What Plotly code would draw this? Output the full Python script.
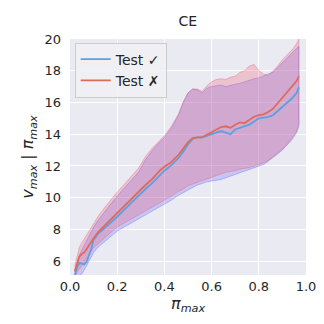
import plotly.graph_objects as go

# x positions (pi_max) shared by all series
pi_max = [0.02, 0.03, 0.04, 0.05, 0.06, 0.07, 0.08, 0.09, 0.10, 0.12, 0.14, 0.16, 0.18, 0.20,
          0.23, 0.26, 0.29, 0.32, 0.35, 0.38, 0.40, 0.43, 0.46, 0.48, 0.50, 0.52, 0.54, 0.56,
          0.58, 0.60, 0.62, 0.64, 0.66, 0.68, 0.70, 0.72, 0.74, 0.76, 0.78, 0.80, 0.82, 0.84,
          0.86, 0.88, 0.90, 0.92, 0.94, 0.96, 0.97]

# Test ✓ (blue)
ok_mean = [5.1, 5.6, 5.9, 5.85, 5.8, 5.95, 6.3, 6.75, 7.35, 7.75, 8.0, 8.25, 8.5, 8.8,
           9.25, 9.7, 10.15, 10.55, 10.95, 11.4, 11.7, 12.05, 12.5, 12.9, 13.35, 13.7, 13.8, 13.8,
           13.9, 14.0, 14.1, 14.2, 14.1, 14.0, 14.3, 14.4, 14.5, 14.6, 14.8, 15.0, 15.05, 15.1,
           15.2, 15.45, 15.75, 16.0, 16.25, 16.6, 16.95]
ok_upper = [5.5, 6.0, 6.4, 6.7, 7.0, 7.3, 7.6, 7.9, 8.15, 8.6, 9.0, 9.4, 9.75, 10.1,
            10.6, 11.1, 11.6, 12.4, 13.0, 13.5, 13.8, 14.4, 15.2, 16.0, 16.6, 16.85, 16.8, 16.6,
            16.9, 17.0, 17.05, 17.1, 17.0, 17.1, 17.15, 17.2, 17.3, 17.4, 17.5, 17.55, 17.7, 17.8,
            17.9, 18.2, 18.5, 18.8, 19.1, 19.4, 19.55]
ok_lower = [4.9, 5.0, 5.1, 5.2, 5.4, 5.7, 6.0, 6.3, 6.55, 6.9, 7.15, 7.4, 7.65, 7.9,
            8.2, 8.45, 8.7, 8.95, 9.2, 9.45, 9.6, 9.85, 10.15, 10.35, 10.5, 10.65, 10.8, 10.9,
            11.0, 11.05, 11.1, 11.15, 11.25, 11.35, 11.45, 11.55, 11.7, 11.8, 11.9, 12.0, 12.1, 12.3,
            12.5, 12.75, 13.0, 13.3, 13.65, 14.1, 14.5]

# Test ✗ (red)
bad_mean = [5.35, 5.9, 6.3, 6.45, 6.55, 6.75, 7.0, 7.2, 7.45, 7.85, 8.15, 8.45, 8.75, 9.0,
            9.45, 9.95, 10.4, 10.8, 11.2, 11.7, 11.95, 12.25, 12.7, 13.1, 13.5, 13.75, 13.8, 13.8,
            13.95, 14.1, 14.3, 14.45, 14.5, 14.4, 14.6, 14.75, 14.7, 14.9, 15.1, 15.2, 15.25, 15.4,
            15.6, 15.95, 16.3, 16.6, 16.95, 17.35, 17.65]
bad_upper = [5.7, 6.4, 6.9, 7.15, 7.4, 7.65, 7.9, 8.15, 8.4, 8.85, 9.25, 9.65, 10.0, 10.35,
             10.85, 11.35, 11.85, 12.6, 13.15, 13.6, 13.9, 14.5, 15.3, 16.05, 16.6, 16.85, 16.85, 16.7,
             17.05, 17.3, 17.45, 17.5, 17.45, 17.6, 17.65, 17.9, 18.0, 18.3, 18.4, 18.0, 17.8, 17.7,
             18.0, 18.3, 18.7, 19.0, 19.3, 19.7, 20.0]
bad_lower = [5.0, 5.3, 5.5, 5.7, 5.9, 6.15, 6.4, 6.65, 6.85, 7.15, 7.4, 7.65, 7.9, 8.15,
             8.45, 8.7, 8.95, 9.2, 9.45, 9.7, 9.85, 10.1, 10.4, 10.55, 10.75, 10.9, 11.0, 11.1,
             11.2, 11.3, 11.4, 11.5, 11.6, 11.65, 11.7, 11.8, 11.85, 11.9, 12.0, 12.1, 12.2, 12.35,
             12.55, 12.8, 13.05, 13.35, 13.75, 14.2, 14.7]

x_ticks = [0.0, 0.2, 0.4, 0.6, 0.8, 1.0]
y_ticks = [6, 8, 10, 12, 14, 16, 18, 20]

BLUE = '#5da0e0'
RED = '#e06a5a'

fig = go.Figure()


def add_band(upper, lower, fill, edge):
    fig.add_trace(go.Scatter(x=pi_max + pi_max[::-1], y=upper + lower[::-1], fill='toself',
                             fillcolor=fill, line=dict(color=edge, width=0.8),
                             mode='lines', showlegend=False, hoverinfo='skip'))


# bands first, then mean lines on top
add_band(ok_upper, ok_lower, 'rgba(90,90,255,0.25)', 'rgba(90,90,255,0.45)')
add_band(bad_upper, bad_lower, 'rgba(240,90,110,0.27)', 'rgba(230,90,110,0.45)')

fig.add_trace(go.Scatter(x=pi_max, y=ok_mean, mode='lines', name='Test ✓',
                         line=dict(color=BLUE, width=1.8)))
fig.add_trace(go.Scatter(x=pi_max, y=bad_mean, mode='lines', name='Test ✗',
                         line=dict(color=RED, width=1.8)))

fig.update_layout(
    width=324, height=324,
    margin=dict(l=62, r=26, t=31, b=57),
    paper_bgcolor='white', plot_bgcolor='#eaeaf2',
    font=dict(family='DejaVu Sans', size=13, color='#262626'),
    title=dict(text='CE', x=0.555, xanchor='center', y=0.945, yanchor='bottom',
               font=dict(size=14)),
    legend=dict(x=0.02, y=0.985, xanchor='left', yanchor='top',
                bgcolor='rgba(240,240,245,0.85)', bordercolor='#cccccc', borderwidth=1,
                font=dict(size=14), tracegroupgap=0, itemwidth=30),
    showlegend=True,
)
fig.update_xaxes(range=[0, 1], tickvals=x_ticks, ticktext=['%.1f' % t for t in x_ticks],
                 showgrid=True, gridcolor='white', gridwidth=1.2, zeroline=False,
                 showline=False, ticks='', ticklabelstandoff=2,
                 title=dict(text='<i>π<sub>max</sub></i>', standoff=2))
fig.update_yaxes(range=[5.13, 20], tickvals=y_ticks,
                 showgrid=True, gridcolor='white', gridwidth=1.2, zeroline=False,
                 showline=False, ticks='', ticklabelstandoff=8,
                 title=dict(text='<i>v<sub>max</sub></i> | <i>π<sub>max</sub></i>', standoff=6))

fig.write_html("out.html")
